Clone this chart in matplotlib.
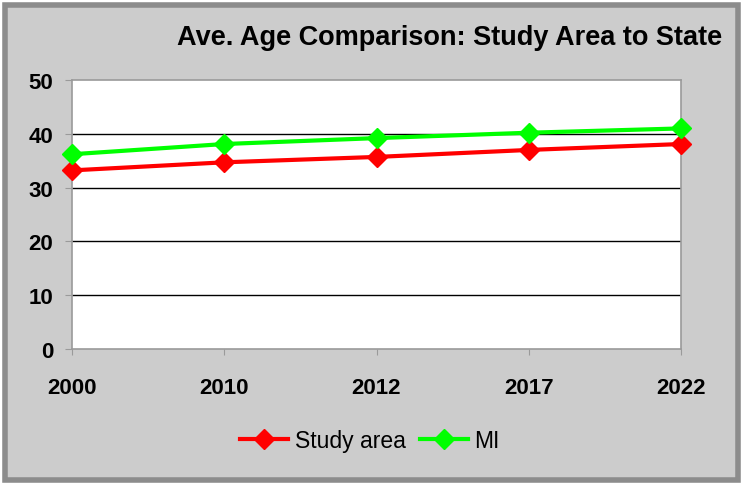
import matplotlib
matplotlib.use("Agg")
import matplotlib.pyplot as plt
from matplotlib.patches import Rectangle

years = ["2000", "2010", "2012", "2017", "2022"]
study_area = [33.2, 34.7, 35.7, 37.0, 38.1]
mi = [36.2, 38.1, 39.2, 40.2, 41.0]
y_ticks = [0, 10, 20, 30, 40, 50]

plt.rcParams['font.family'] = ['Liberation Sans', 'DejaVu Sans']

W, H = 744, 485
fig = plt.figure(figsize=(W / 100, H / 100), dpi=100, facecolor='white')

# outer chart frame
frame = Rectangle((5 / W, 4 / H), 733 / W, 475 / H, transform=fig.transFigure,
                  facecolor='#CCCCCC', edgecolor='#8C8C8C', linewidth=4, zorder=-10)
fig.patches.append(frame)

ax = fig.add_axes([72 / W, 1 - 350 / H, (681 - 72) / W, (350 - 81) / H])
ax.set_zorder(5)
ax.set_facecolor('white')

x = list(range(len(years)))
ax.plot(x, study_area, color='#FF0000', lw=3, marker='D', ms=10, label='Study area',
        clip_on=False, zorder=4)
ax.plot(x, mi, color='#00FF00', lw=3, marker='D', ms=10, label='MI',
        clip_on=False, zorder=4)

ax.set_xlim(0, len(years) - 1)
ax.set_ylim(0, 50)
ax.set_xticks(x)
ax.set_xticklabels(years, fontsize=16, fontweight='bold')
ax.set_yticks(y_ticks)
ax.set_yticklabels([str(v) for v in y_ticks], fontsize=16, fontweight='bold')

for v in y_ticks[1:-1]:
    ax.axhline(v, color='black', lw=1, zorder=1)

for s in ax.spines.values():
    s.set_color('#9A9A9A')
    s.set_linewidth(1.2)

ax.tick_params(axis='y', length=5, color='#9A9A9A', pad=8.5)
ax.tick_params(axis='x', length=4, color='#9A9A9A', pad=16)

fig.text(722 / W, 1 - 38 / H, 'Ave. Age Comparison: Study Area to State',
         ha='right', va='center', fontsize=19.5, fontweight='bold')

leg = fig.legend(loc='center', bbox_to_anchor=(370 / W, 1 - 442 / H), ncol=2,
                 frameon=False, fontsize=16.5, handlelength=2.1, columnspacing=0.6,
                 handletextpad=0.3)

fig.savefig('out.png', dpi=100, facecolor='white')
